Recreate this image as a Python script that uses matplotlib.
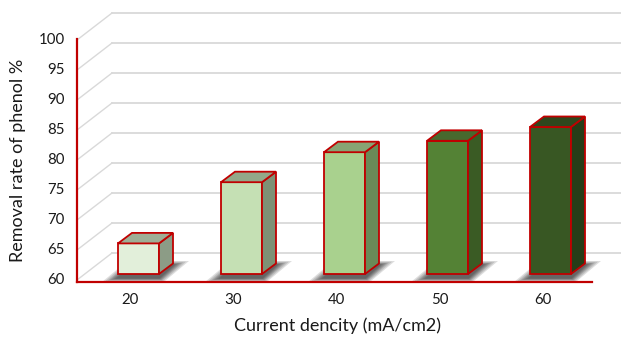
import matplotlib.pyplot as plt
from matplotlib.patches import Polygon

# data
densities = ['20', '30', '40', '50', '60']
removal = [65.1, 75.3, 80.3, 82.2, 84.5]
yticks = [60, 65, 70, 75, 80, 85, 90, 95, 100]

front_colors = ['#E2EFDA', '#C5E0B4', '#A9D18E', '#548235', '#385723']
side_colors = ['#8C9C86', '#7E9175', '#6A8A58', '#3A5B24', '#263D18']
top_colors = ['#9EAE96', '#93A889', '#87A474', '#47692E', '#2E471D']
edge = '#C00000'
grid_col = '#D9D9D9'

plt.rcParams['font.family'] = ['Lato', 'DejaVu Sans']

fig = plt.figure(figsize=(6.21, 3.39), dpi=100)
ax = fig.add_axes([0, 0, 1, 1])
# 1 category = 103 px, 1 value unit = 6 px
px_x = 1 / 103
px_y = 1 / 6
ax.set_xlim(-138.5 * px_x, (621 - 138.5) * px_x)
ax.set_ylim(60 - 59 * px_y, 60 + 280 * px_y)
ax.axis('off')

x_left = -61.5 * px_x      # front red axis
x_right = 453.5 * px_x
wall_dx = 35 * px_x
wall_dy = 27 * px_y
y_floor = 60 - 2 * px_y

# gridlines: left wall diagonals + back wall lines
for v in yticks:
    ax.plot([x_left, x_left + wall_dx], [v, v + wall_dy], color=grid_col, lw=1, zorder=1)
    ax.plot([x_left + wall_dx, 5.0], [v + wall_dy, v + wall_dy], color=grid_col,
            lw=1.3, zorder=1, clip_on=False)
    ax.text(x_left - 12 * px_x, v, str(v), ha='right', va='center', fontsize=10.8,
            color='#1a1a1a')

# red axis lines
ax.plot([x_left, x_left], [y_floor, 100 + 1 * px_y], color=edge, lw=1.6, zorder=5)
ax.plot([x_left, x_right], [y_floor, y_floor], color=edge, lw=1.6, zorder=5)

# bars drawn as 3-D boxes
half_w = 20.5 * px_x
depth_dx = 14 * px_x
depth_dy = 10.5 * px_y
base = 60 + 6 * px_y
for i, val in enumerate(removal):
    top = val + 6 * px_y
    l, r = i - half_w, i + half_w
    # blurred floor shadow, layered parallelograms
    for e in [16, 13, 10, 8, 6, 4, 2]:
        ex = e * px_x
        ey = e * 0.25 * px_y
        ax.add_patch(Polygon([(l - ex, base - 4 * px_y - ey),
                              (r + 0.3 * ex, base - 4 * px_y - ey),
                              (r + depth_dx + ex, base + 9 * px_y + ey),
                              (l + depth_dx - 0.3 * ex, base + 9 * px_y + ey)],
                             closed=True, fc='#202020', alpha=0.15, lw=0, zorder=2))
    ax.add_patch(Polygon([(l, base), (r, base), (r, top), (l, top)], closed=True,
                         fc=front_colors[i], ec=edge, lw=1.3, zorder=4))
    ax.add_patch(Polygon([(r, base), (r + depth_dx, base + depth_dy),
                          (r + depth_dx, top + depth_dy), (r, top)], closed=True,
                         fc=side_colors[i], ec=edge, lw=1.3, zorder=4))
    ax.add_patch(Polygon([(l, top), (r, top), (r + depth_dx, top + depth_dy),
                          (l + depth_dx, top + depth_dy)], closed=True,
                         fc=top_colors[i], ec=edge, lw=1.3, zorder=4))
    ax.text(i - 8 * px_x, 60 - 20 * px_y, densities[i], ha='center', va='center',
            fontsize=10.8, color='#1a1a1a')

ax.text(199.5 * px_x, 60 - 46 * px_y, 'Current dencity (mA/cm2)', ha='center',
        va='center', fontsize=13, color='#1a1a1a')
ax.text(-120.5 * px_x, 80, 'Removal rate of phenol %', ha='center', va='center',
        rotation=90, fontsize=13, color='#1a1a1a')

fig.savefig('out.png', dpi=100)
